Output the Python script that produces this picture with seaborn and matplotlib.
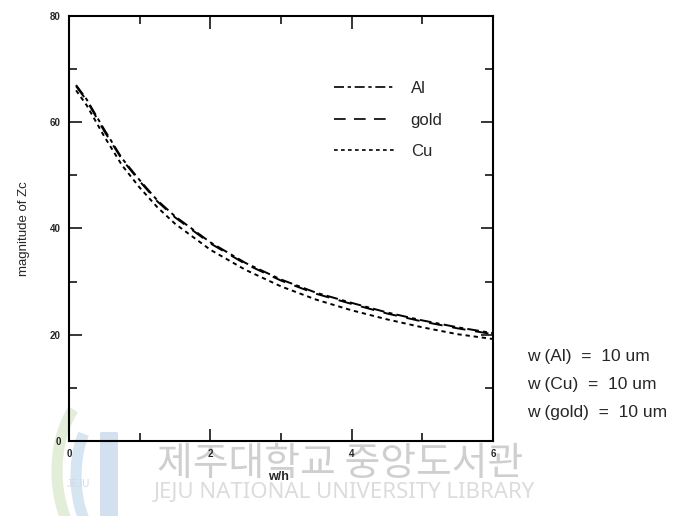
import numpy as np
import pandas as pd
import matplotlib
matplotlib.use("Agg")
import matplotlib.pyplot as plt
import seaborn as sns
from matplotlib.patches import Arc, FancyBboxPatch

# ---- data ----
w_h = [0.1, 0.25, 0.5, 0.75, 1.0, 1.25, 1.5, 2.0, 2.5, 3.0, 3.5, 4.0, 4.5, 5.0, 5.5, 6.0]
z_al = [67.0, 64.3, 58.6, 53.2, 49.1, 45.3, 42.3, 37.4, 33.5, 30.4, 27.9, 26.0, 24.2, 22.7, 21.4, 20.3]
z_gold = [66.8, 64.1, 58.3, 53.0, 48.9, 45.1, 42.1, 37.2, 33.3, 30.2, 27.7, 25.8, 24.0, 22.5, 21.2, 20.1]
z_cu = [66.0, 63.2, 57.3, 51.9, 47.7, 44.0, 40.9, 36.0, 32.2, 29.1, 26.6, 24.6, 22.9, 21.4, 20.1, 19.2]
metals = ["Al", "gold", "Cu"]
width_notes = ["w (Al)  =  10 um", "w (Cu)  =  10 um", "w (gold)  =  10 um"]
x_ticks = [0, 2, 4, 6]
y_ticks = [0, 20, 40, 60, 80]
x_label = "w/h"
y_label = "magnitude of Zc"
wm_korean = "제주대학교 중앙도서관"
wm_english = "JEJU NATIONAL UNIVERSITY LIBRARY"

df = pd.DataFrame({
    "w/h": w_h * 3,
    "Z": z_al + z_gold + z_cu,
    "metal": ["Al"] * len(w_h) + ["gold"] * len(w_h) + ["Cu"] * len(w_h),
})

sns.set_style("white")
plt.rcParams["font.family"] = ["Liberation Sans", "DejaVu Sans"]

W, H = 683, 516
fig = plt.figure(figsize=(W / 100, H / 100), dpi=100)

# ---- watermark (behind everything) ----
fig.text(340 / W, 1 - 464 / H, wm_korean, family=["Noto Sans CJK KR"], fontsize=28,
         color="#cfcfcf", ha="center", va="center", zorder=0)
fig.text(344 / W, 1 - 493 / H, wm_english, family=["Noto Sans", "DejaVu Sans"], fontsize=16,
         color="#dcdcdc", ha="center", va="center", zorder=0)
# simple logo approximation
logo_ax = fig.add_axes([30 / W, 0, 100 / W, 125 / H], zorder=0)
logo_ax.set_xlim(0, 100)
logo_ax.set_ylim(0, 125)
logo_ax.axis("off")
logo_ax.add_patch(Arc((72, 45), 90, 160, theta1=115, theta2=250, lw=8, color="#e2eed8"))
logo_ax.add_patch(Arc((78, 40), 64, 130, theta1=120, theta2=250, lw=8, color="#d6e5f2"))
logo_ax.add_patch(FancyBboxPatch((72, 0), 14, 82, boxstyle="round,pad=2", fc="#d2e0ef", ec="none"))
logo_ax.text(48, 32, "JEJU", fontsize=7, color="#d0dae6", ha="center", va="center")

# ---- main axes ----
ax = fig.add_axes([69 / W, 75 / H, 424 / W, 425 / H], zorder=2)
ax.patch.set_alpha(0)
dash_map = {"Al": (6, 2.2, 2, 2.2), "gold": (7, 5), "Cu": (2.2, 2)}
sns.lineplot(data=df, x="w/h", y="Z", style="metal", style_order=metals, dashes=dash_map,
             color="black", lw=1.4, ax=ax, legend=True)

ax.set_xlim(0, 6)
ax.set_ylim(0, 80)
ax.set_xticks(x_ticks)
ax.set_yticks(y_ticks)
ax.set_xticks([1, 3, 5], minor=True)
ax.set_yticks([10, 30, 50, 70], minor=True)
ax.tick_params(which="both", direction="in", top=True, right=True, bottom=True, left=True,
               color="black", width=1.1)
ax.tick_params(which="major", length=9, labelsize=7, pad=6)
ax.tick_params(which="minor", length=5.5)
for lab in ax.get_xticklabels() + ax.get_yticklabels():
    lab.set_fontweight("bold")
for s in ax.spines.values():
    s.set_visible(True)
    s.set_color("black")
    s.set_linewidth(1.5)

ax.set_xlabel("")
ax.set_ylabel(y_label, fontsize=9.5, labelpad=14)
fig.text(278 / W, 1 - 477 / H, x_label, fontsize=9, fontweight="bold", ha="center", va="center")

handles, labels = ax.get_legend_handles_labels()
hl = [(h, l) for h, l in zip(handles, labels) if l in metals]
leg = ax.legend([h for h, _ in hl], [l for _, l in hl], loc="upper left",
                bbox_to_anchor=(334 / W, 1 - 81 / H), bbox_transform=fig.transFigure,
                frameon=False, fontsize=12, handlelength=3.6, handletextpad=1.0,
                labelspacing=1.0, borderpad=0, borderaxespad=0)
for line in leg.get_lines():
    line.set_linewidth(1.2)

for i, note in enumerate(width_notes):
    fig.text(527 / W, 1 - (357 + 27.5 * i) / H, note, fontsize=12.5, ha="left", va="center")

fig.savefig("out.png", dpi=100)
